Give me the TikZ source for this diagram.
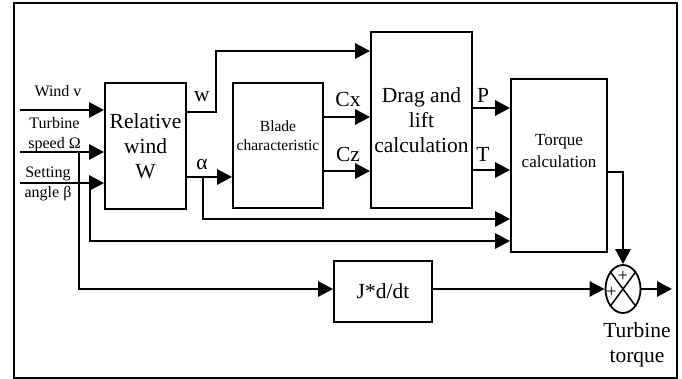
\documentclass[tikz,border=0pt]{standalone}
\usepackage{fontspec}
\setmainfont{Liberation Serif}
\usetikzlibrary{arrows.meta,positioning,shapes.geometric}
\tikzset{>={Triangle[length=15pt,width=15pt]}}

\begin{document}
\begin{tikzpicture}[x=1pt,y=-1pt]
	\tikzset{block/.style={draw, rectangle, line width=1.8pt, align=center, inner sep=0pt},
		sig/.style={->, line width=2.8pt},
		lbl/.style={align=center, inner sep=0pt},
		big/.style={font=\fontsize{21.5}{25}\selectfont},
		small/.style={font=\fontsize{16}{20}\selectfont},
	}
	\useasboundingbox (0,0) rectangle (682,379);
	\draw [line width=1.2pt] (14,3) rectangle (677,378);

	% blocks
	\node [block, big, minimum width=81pt, minimum height=126pt] (rw) at (145.5,146) {Relative\\wind\\W};
	\node [block, minimum width=90pt, minimum height=125pt] (blade) at (278,145.5) {};
	\node [lbl, font=\fontsize{15.5}{19}\selectfont] (bladetxt) at (278,136) {Blade\\characteristic};
	\node [block, big, minimum width=101pt, minimum height=176pt] (drag) at (421.5,120) {Drag and\\lift\\calculation};
	\node [block, minimum width=96pt, minimum height=173pt] (torque) at (559,165.5) {};
	\node [lbl, font=\fontsize{17}{22}\selectfont] (torquetxt) at (559,151) {Torque\\calculation};
	\node [block, big, minimum width=98pt, minimum height=61pt] (jdt) at (383,291.5) {J*d/dt};
	\node [draw, ellipse, line width=1.8pt, minimum width=35pt, minimum height=48pt, inner sep=0pt] (sum) at (623,289) {};
	\draw [line width=1.5pt] (sum.north west) -- (sum.south east);
	\draw [line width=1.5pt] (sum.north east) -- (sum.south west);
	\node [lbl, font=\fontsize{18}{18}\selectfont] (p1) at (623,276) {+};
	\node [lbl, font=\fontsize{18}{18}\selectfont] (p2) at (611.5,292) {+};

	% inputs
	\coordinate (inv) at (20,110);
	\coordinate (inw) at (20,152);
	\coordinate (inb) at (20,183);
	\coordinate (bw) at (79,152);
	\coordinate (bb) at (90,183);
	\coordinate (wup) at (216,51);
	\coordinate (ba) at (203,177);
	\coordinate (tq) at (623,172);
	\coordinate (out) at (672,289);

	\draw [sig] (inv) -- (inv -| rw.west);
	\draw [sig] (inw) -- (inw -| rw.west);
	\draw [sig] (inb) -- (inb -| rw.west);
	\draw [sig] (bw) |- (jdt.west |- sum);
	\draw [sig] (bb) |- (torque.west |- 0,241);
	\draw [sig] (rw.east |- 0,112) -| (wup) -- (wup -| drag.west);
	\draw [sig] (rw.east |- ba) -- (ba -| blade.west);
	\draw [sig] (ba) |- (torque.west |- 0,219);
	\draw [sig] (blade.east |- 0,117) -- (drag.west |- 0,117);
	\draw [sig] (blade.east |- 0,171) -- (drag.west |- 0,171);
	\draw [sig] (drag.east |- 0,108) -- (torque.west |- 0,108);
	\draw [sig] (drag.east |- 0,170) -- (torque.west |- 0,170);
	\draw [sig] (torque.east |- tq) -- (tq) -- (sum.north);
	\draw [sig] (jdt.east |- sum) -- (sum.west);
	\draw [sig] (sum.east) -- (out);

	% labels
	\node [lbl, small] (lv) at (58,91) {Wind v};
	\node [lbl, small] (lw) at (54.5,135) {Turbine\\speed Ω};
	\node [lbl, small] (lb) at (48,184) {Setting\\angle β};
	\node [lbl, big] (lws) at (202,97) {w};
	\node [lbl, big] (la) at (202,165) {α};
	\node [lbl, big] (lcx) at (348,99) {Cx};
	\node [lbl, big] (lcz) at (348,154) {Cz};
	\node [lbl, big] (lp) at (483,95) {P};
	\node [lbl, big] (lt) at (483,154) {T};
	\node [lbl, big] (ltt) at (637,345) {Turbine\\torque};
\end{tikzpicture}
\end{document}
